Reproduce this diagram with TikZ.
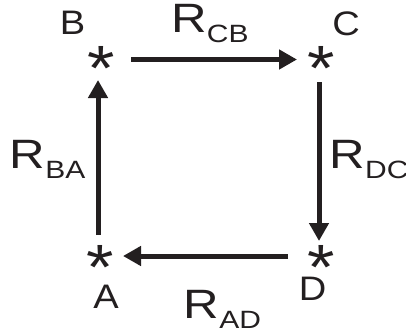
\documentclass[tikz,border=0pt]{standalone}
\usepackage{fontspec}
\setmainfont{Liberation Sans}
\usetikzlibrary{arrows.meta}
\definecolor{ink}{HTML}{231F20}
\newcommand{\ptlbl}[1]{\scalebox{1.12}[1]{\fontsize{34}{34}\selectfont #1}}
\newcommand{\rlbl}[1]{\scalebox{1.2}[1]{\fontsize{41}{41}\selectfont R\raisebox{-10pt}{\fontsize{25}{25}\selectfont #1}}}
\newcommand{\starglyph}{\scalebox{1.1}[1]{\fontsize{64}{64}\selectfont *}}
\tikzset{
  lbl/.style={anchor=base, inner sep=0pt, text=ink},
  starnode/.style={anchor=base, inner sep=0pt, text=ink},
  rarrow/.style={draw=ink, line width=5pt, -{Triangle[length=18pt,width=19pt]}},
}
\begin{document}
\begin{tikzpicture}[x=1pt,y=-1pt]
\useasboundingbox (0,0) rectangle (406,334);
% stars (base placed so glyph centre lands on the point)
\node[starnode] (sB) at (101,60.5+30) {\starglyph};
\node[starnode] (sC) at (321,60.5+30) {\starglyph};
\node[starnode] (sA) at (100,259.5+30) {\starglyph};
\node[starnode] (sD) at (321,259.5+30) {\starglyph};
\coordinate (cB) at (101,59.5);
\coordinate (cC) at (321,59.5);
\coordinate (cA) at (98,256);
\coordinate (cD) at (319,256);
% letters
\node[lbl] (lB) at (72.5,35) {\ptlbl{B}};
\node[lbl] (lC) at (346,35.5) {\ptlbl{C}};
\node[lbl] (lA) at (106,308) {\ptlbl{A}};
\node[lbl] (lD) at (312.5,300) {\ptlbl{D}};
% rate labels
\node[lbl] (rCB) at (210,32.5) {\rlbl{CB}};
\node[lbl] (rBA) at (47.5,168) {\rlbl{BA}};
\node[lbl] (rDC) at (369,168) {\rlbl{DC}};
\node[lbl] (rAD) at (222.5,318) {\rlbl{AD}};
% arrows
\draw[rarrow, shorten <=30pt, shorten >=24pt] (cB) -- (cC);
\draw[rarrow] ([yshift=-23pt]cC -| cD) -- ([yshift=15pt]cD);
\draw[rarrow] ([xshift=-31pt]cD) -- ([xshift=25pt]cA);
\draw[rarrow] ([yshift=21pt]cA) -- ([yshift=-20.5pt]cA |- cB);
\end{tikzpicture}
\end{document}
